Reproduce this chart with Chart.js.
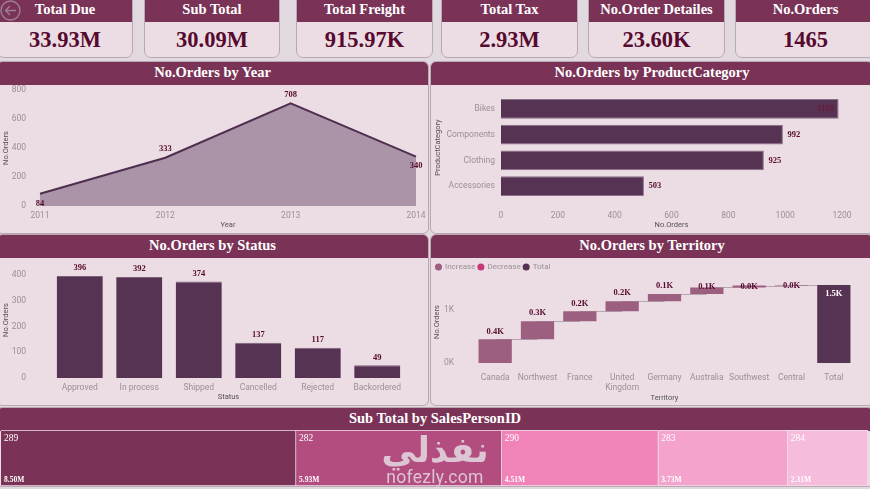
<!DOCTYPE html>
<html><head><meta charset="utf-8">
<script src="https://cdn.jsdelivr.net/npm/chart.js@4"></script>
<style>
html,body{margin:0;padding:0;background:#e2d9e0;}
#root{position:relative;width:870px;height:489px;overflow:hidden;background:#e2d9e0;font-family:"Liberation Serif",serif;}
.card{position:absolute;top:-6px;height:64px;background:#ecdde5;border:1px solid #b9a7b4;border-radius:7px;box-sizing:border-box;overflow:hidden;text-align:center;}
.card .h{height:27px;padding-top:4px;box-sizing:border-box;background:#7a3356;color:#fff;font-weight:bold;font-size:14.5px;line-height:20px;}
.card .v{color:#560a2e;font-weight:bold;font-size:22.5px;line-height:35px;}
.panel{position:absolute;background:#ecdde5;border:1px solid #b9a7b4;border-radius:6px;box-sizing:border-box;overflow:hidden;}
.panel .h{position:absolute;left:0;right:0;top:0;height:23px;background:#7a3356;color:#fff;font-weight:bold;font-size:14.5px;line-height:21px;text-align:center;}
.cv{position:absolute;}
#wm{position:absolute;left:372px;top:434px;width:126px;height:54px;text-align:center;color:#dcc6d4;pointer-events:none;}
#wm .a{font-family:"DejaVu Sans";font-weight:bold;font-size:35px;line-height:32px;}
#wm .b{font-family:"Roboto";font-size:17.5px;line-height:16px;letter-spacing:.3px;margin-top:3px;}
</style></head><body>
<div id="root">
<div class="card" style="left:-3px;width:136px"><div class="h">Total Due</div><div class="v">33.93M</div></div>
<div class="card" style="left:144px;width:136px"><div class="h">Sub Total</div><div class="v">30.09M</div></div>
<div class="card" style="left:296px;width:137px"><div class="h">Total Freight</div><div class="v">915.97K</div></div>
<div class="card" style="left:441px;width:137px"><div class="h">Total Tax</div><div class="v">2.93M</div></div>
<div class="card" style="left:588px;width:137px"><div class="h">No.Order Detailes</div><div class="v">23.60K</div></div>
<div class="card" style="left:735px;width:141px"><div class="h">No.Orders</div><div class="v">1465</div></div>
<svg style="position:absolute;left:0;top:0" width="22" height="22" fill="none" stroke="#9d7f93" stroke-width="1.4"><circle cx="10.5" cy="10.5" r="9.5"/><path d="M16 10.5H5.5M10 6l-4.5 4.5L10 15"/></svg>

<div class="panel" style="left:-4px;top:61px;width:433px;height:173px"><div class="h">No.Orders by Year</div></div>
<div class="panel" style="left:430px;top:61px;width:444px;height:173px"><div class="h">No.Orders by ProductCategory</div></div>
<div class="panel" style="left:-4px;top:234px;width:433px;height:172px"><div class="h">No.Orders by Status</div></div>
<div class="panel" style="left:430px;top:234px;width:444px;height:172px"><div class="h">No.Orders by Territory</div></div>
<div class="panel" style="left:-4px;top:407px;width:878px;height:80px"><div class="h">Sub Total by SalesPersonID</div></div>

<div class="cv" style="left:0;top:84px;width:428px;height:149px"><canvas id="c1"></canvas></div>
<div class="cv" style="left:431px;top:84px;width:439px;height:149px"><canvas id="c2"></canvas></div>
<div class="cv" style="left:0;top:257px;width:428px;height:148px"><canvas id="c3"></canvas></div>
<div class="cv" style="left:431px;top:257px;width:439px;height:148px"><canvas id="c4"></canvas></div>
<div class="cv" style="left:0;top:430px;width:870px;height:57px"><canvas id="c5"></canvas></div>
<div id="wm"><div class="a" dir="rtl">نفذلي</div><div class="b">nofezly.com</div></div>
</div>
<script>
const years = ['2011','2012','2013','2014'];
const ordersByYear = [84,333,708,340];
const categories = ['Bikes','Components','Clothing','Accessories'];
const ordersByCategory = [1188,992,925,503];
const statuses = ['Approved','In process','Shipped','Cancelled','Rejected','Backordered'];
const ordersByStatus = [396,392,374,137,117,49];
const territories = ['Canada','Northwest','France',['United','Kingdom'],'Germany','Australia','Southwest','Central','Total'];
const territoryStart = [0,445,785,970,1160,1295,1420,1455];
const territoryEnd = [445,785,970,1160,1295,1420,1455,1465];
const territoryTotal = 1465;
const territoryLabels = ['0.4K','0.3K','0.2K','0.2K','0.1K','0.1K','0.0K','0.0K','1.5K'];
const territoryTicks = [0,1000];
const salesPeople = ['289','282','290','283','284'];
const salesValues = [8.50,5.93,4.51,3.73,2.31];
const salesLabels = ['8.50M','5.93M','4.51M','3.73M','2.31M'];
const salesColors = ['#7a3356','#b34d80','#f083b8','#f4a4cc','#f6bcdc'];

const DARK='#573353', TICK='#9a8f98', TITLE='#55505a', LABEL='#560a2e';
Chart.defaults.animation=false;
Chart.defaults.responsive=true;
Chart.defaults.maintainAspectRatio=false;
Chart.defaults.plugins.legend.display=false;
Chart.defaults.plugins.tooltip.enabled=false;
const tickFont={family:'Roboto',size:8.5};
const titleFont={family:'Roboto',size:7.5};
const serif='bold 8.5px "Liberation Serif"';

function fitTo(size){return s=>{
  if(s.isHorizontal()){s.height=size;}else{s.width=size;}
  s.paddingLeft=s.paddingRight=s.paddingTop=s.paddingBottom=0;
};}
function axis(text,size,padding,extra){
  const e=extra||{};
  return Object.assign({},e,{
    grid:{display:false,drawTicks:false},border:{display:false},
    title:{display:true,text,color:TITLE,font:titleFont,padding:0},
    ticks:Object.assign({color:TICK,font:tickFont,padding,maxRotation:0,autoSkip:false},e.ticks||{}),
    afterFit:fitTo(size)
  });
}
const labelers={
  c1(c){const m=c.getDatasetMeta(0).data,dy=[9.5,-9,-9,9.5];
    return m.map((p,i)=>({text:String(ordersByYear[i]),x:p.x,y:p.y+dy[i]}));},
  c2(c){const m=c.getDatasetMeta(0).data;
    return m.map((p,i)=>i==0?{text:String(ordersByCategory[i]),x:p.x-13,y:p.y,color:'#6b1a3e'}:{text:String(ordersByCategory[i]),x:p.x+11,y:p.y});},
  c3(c){const m=c.getDatasetMeta(0).data;
    return m.map((p,i)=>({text:String(ordersByStatus[i]),x:p.x,y:p.y-8}));},
  c4(c){const inc=c.getDatasetMeta(0).data,t=c.getDatasetMeta(2).data[8],out=[],off=[8,8,8,8,8,1,-1,-1];
    inc.forEach((p,i)=>{if(i<8)out.push({text:territoryLabels[i],x:p.x,y:c.scales.y.getPixelForValue(territoryEnd[i])-off[i]});});
    out.push({text:territoryLabels[8],x:t.x,y:t.y+9,color:'#fff'});return out;}
};
Chart.register({id:'vLabels',afterDatasetsDraw(c){
  const f=labelers[c.canvas.id]; if(!f) return;
  const ctx=c.ctx; ctx.save(); ctx.font=serif; ctx.textAlign='center'; ctx.textBaseline='middle';
  f(c).forEach(i=>{ctx.fillStyle=i.color||LABEL;ctx.fillText(i.text,i.x,i.y);});
  ctx.restore();
}});

new Chart('c1',{type:'line',
 data:{labels:years,datasets:[{data:ordersByYear,borderColor:'#4f2f4f',borderWidth:2,pointRadius:0,tension:0,fill:'origin',backgroundColor:'#ab94a7'}]},
 options:{layout:{padding:{left:2,top:6,right:12,bottom:3}},
  scales:{x:axis('Year',24,5),y:axis('No.Orders',38,14,{min:0,max:800,ticks:{stepSize:200}})}}});

new Chart('c2',{type:'bar',
 data:{labels:categories,datasets:[{data:ordersByCategory,backgroundColor:DARK,borderColor:'#8c6f88',borderWidth:1,barPercentage:.76,categoryPercentage:1}]},
 options:{indexAxis:'y',layout:{padding:{left:3,top:12,right:28,bottom:3}},
  scales:{x:axis('No.Orders',31,12,{min:0,max:1200,ticks:{stepSize:200,callback:v=>String(v)}}),
          y:axis('ProductCategory',67,6)}}});

new Chart('c3',{type:'bar',
 data:{labels:statuses,datasets:[{data:ordersByStatus,backgroundColor:DARK,borderColor:'#7d5f78',borderWidth:{top:1},barPercentage:.775,categoryPercentage:1}]},
 options:{layout:{padding:{left:2,top:5,right:21,bottom:3}},
  scales:{x:axis('Status',24,5),
          y:axis('No.Orders',48,24,{min:0,max:450,ticks:{stepSize:100,includeBounds:false}})}}});

const connect={id:'connect',beforeDatasetsDraw(c){
  const ctx=c.ctx,x=c.scales.x,y=c.scales.y; ctx.save(); ctx.strokeStyle='#b7a5b2'; ctx.lineWidth=1;
  territoryEnd.forEach((v,i)=>{const py=Math.round(y.getPixelForValue(v))+.5;
    ctx.beginPath();ctx.moveTo(x.getPixelForValue(i),py);ctx.lineTo(x.getPixelForValue(i+1),py);ctx.stroke();});
  ctx.restore();
}};
new Chart('c4',{type:'bar',plugins:[connect],
 data:{labels:territories,datasets:[
  {label:'Increase',data:territoryStart.map((s,i)=>[s,territoryEnd[i]]),backgroundColor:'#9c5f80',barPercentage:.786,categoryPercentage:1},
  {label:'Decrease',data:[],backgroundColor:'#c43a78',barPercentage:.786,categoryPercentage:1},
  {label:'Total',data:[null,null,null,null,null,null,null,null,[0,territoryTotal]],backgroundColor:DARK,barPercentage:.786,categoryPercentage:1}]},
 options:{layout:{padding:{left:2,top:3,right:15,bottom:2}},
  scales:{x:axis('Territory',40,10,{stacked:true}),
          y:axis('No.Orders',41,20,{min:0,max:1540,afterBuildTicks(s){s.ticks=territoryTicks.map(value=>({value}));},ticks:{callback:v=>(v/1000)+'K'}})},
  plugins:{legend:{display:true,position:'top',align:'start',labels:{usePointStyle:true,pointStyle:'circle',boxWidth:5,boxHeight:5,padding:3,color:TICK,font:{family:'Roboto',size:8}}}}}});

new Chart('c5',{type:'bar',
 data:{labels:['Sub Total'],datasets:salesPeople.map((n,i)=>({label:n,data:[salesValues[i]],backgroundColor:salesColors[i],borderColor:'#efe2ea',borderWidth:1,barPercentage:1,categoryPercentage:1}))},
 options:{indexAxis:'y',layout:{padding:{left:1,right:2,top:0,bottom:1}},
  scales:{x:{display:false,stacked:true,min:0,max:24.98},y:{display:false,stacked:true}}},
 plugins:[{id:'tm',afterDatasetsDraw(c){const ctx=c.ctx;ctx.save();ctx.fillStyle='#fff';ctx.textAlign='left';ctx.textBaseline='middle';
   salesPeople.forEach((n,i)=>{const p=c.getDatasetMeta(i).data[0],l=Math.min(p.base,p.x)+3;
     ctx.font='9.5px "Liberation Serif"';ctx.fillText(n,l,8.5);
     ctx.font='bold 7.5px "Liberation Serif"';ctx.fillText(salesLabels[i],l,c.chartArea.bottom-6);});
   ctx.restore();}}]});
</script>
</body></html>
